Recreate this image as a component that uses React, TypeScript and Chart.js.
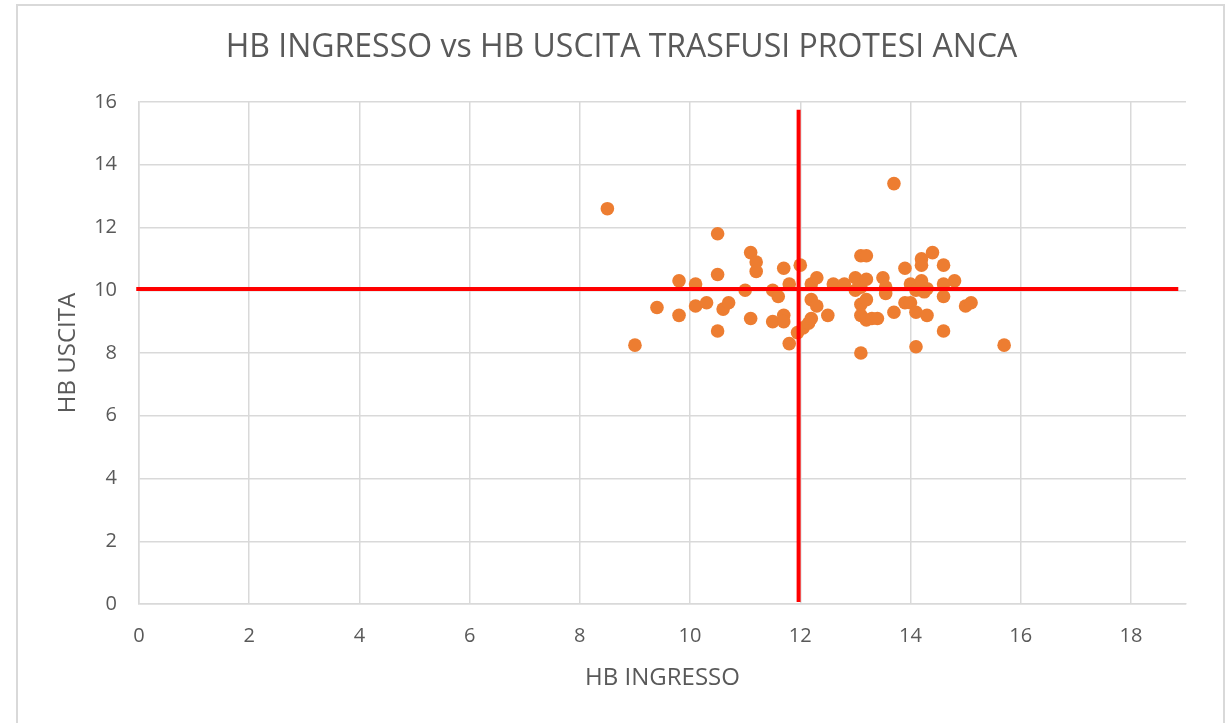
import React, { useEffect, useRef } from "react";
import { Chart, registerables } from "chart.js";

Chart.register(...registerables);

const chartTitle = "HB INGRESSO vs HB USCITA TRASFUSI PROTESI ANCA";
const xAxisTitle = "HB INGRESSO";
const yAxisTitle = "HB USCITA";

const hbIngresso = [8.5, 9.0, 9.4, 9.8, 9.8, 10.1, 10.1, 10.3, 10.5, 10.5, 10.5, 10.6, 10.7, 11.0, 11.1, 11.2, 11.2, 11.1, 11.5, 11.5, 11.6, 11.7, 11.7, 11.7, 11.8, 11.8, 12.0, 11.95, 12.05, 12.15, 12.2, 12.2, 12.3, 12.2, 12.3, 12.5, 12.6, 12.8, 13.0, 13.0, 13.1, 13.2, 13.1, 13.2, 13.1, 13.1, 13.2, 13.3, 13.1, 13.2, 13.4, 13.5, 13.55, 13.55, 13.7, 13.7, 13.9, 13.9, 14.0, 14.0, 14.1, 14.1, 14.1, 14.2, 14.2, 14.2, 14.3, 14.25, 14.3, 14.4, 14.6, 14.6, 14.6, 14.6, 14.8, 15.0, 15.1, 15.7];
const hbUscita = [12.6, 8.25, 9.45, 10.3, 9.2, 10.2, 9.5, 9.6, 11.8, 10.5, 8.7, 9.4, 9.6, 10.0, 11.2, 10.9, 10.6, 9.1, 10.0, 9.0, 9.8, 10.7, 9.2, 9.0, 10.2, 8.3, 10.8, 8.65, 8.8, 8.95, 9.1, 10.2, 10.4, 9.7, 9.5, 9.2, 10.2, 10.2, 10.4, 10.0, 10.1, 10.35, 11.1, 11.1, 9.55, 9.2, 9.05, 9.1, 8.0, 9.7, 9.1, 10.4, 10.1, 9.9, 13.4, 9.3, 10.7, 9.6, 9.6, 10.2, 10.0, 9.3, 8.2, 11.0, 10.8, 10.3, 10.05, 9.95, 9.2, 11.2, 10.8, 10.2, 9.8, 8.7, 10.3, 9.5, 9.6, 8.25];

// reference lines (threshold cross)
const hLineX = [-0.05, 18.86];
const hLineY = [10.04, 10.04];
const vLineX = [11.97, 11.97];
const vLineY = [0.06, 15.75];

const xMin = 0;
const xMax = 19;
const xStep = 2;
const yMin = 0;
const yMax = 16;
const yStep = 2;

const grey = "#595959";
const gridColor = "#d9d9d9";

const centeredTitle = {
  id: "centeredTitle",
  afterDraw(chart: any) {
    const ctx = chart.ctx;
    ctx.save();
    ctx.fillStyle = grey;
    ctx.font = "32px 'Open Sans'";
    ctx.textAlign = "center";
    ctx.textBaseline = "middle";
    ctx.fillText(chartTitle, 621.5, 48);
    ctx.restore();
  },
};

export default function App() {
  const canvasRef = useRef<HTMLCanvasElement | null>(null);

  useEffect(() => {
    const canvas = canvasRef.current;
    if (!canvas) return;
    const chart = new Chart(canvas, {
      type: "scatter",
      data: {
        datasets: [
          {
            label: "h",
            type: "line",
            data: hLineX.map((x, i) => ({ x, y: hLineY[i] })),
            borderColor: "#ff0000",
            borderWidth: 4,
            pointRadius: 0,
            showLine: true,
            fill: false,
            clip: false as any,
            order: 0,
          },
          {
            label: "v",
            type: "line",
            data: vLineX.map((x, i) => ({ x, y: vLineY[i] })),
            borderColor: "#ff0000",
            borderWidth: 4,
            pointRadius: 0,
            showLine: true,
            fill: false,
            clip: false as any,
            order: 0,
          },
          {
            label: "HB",
            data: hbIngresso.map((x, i) => ({ x, y: hbUscita[i] })),
            backgroundColor: "#ED7D31",
            borderWidth: 0,
            pointRadius: 6.8,
            pointHoverRadius: 6.8,
            order: 1,
          },
        ],
      },
      plugins: [centeredTitle],
      options: {
        responsive: false,
        animation: false,
        layout: { padding: { top: 102, left: 0, right: 44, bottom: 0 } },
        plugins: {
          legend: { display: false },
          tooltip: { enabled: false },
          title: { display: false },
        },
        scales: {
          x: {
            type: "linear",
            min: xMin,
            max: xMax,
            ticks: {
              stepSize: xStep,
              includeBounds: false,
              color: grey,
              padding: 20,
              font: { family: "'Open Sans'", size: 20 },
            } as any,
            afterBuildTicks: (scale: any) => {
              scale.ticks = scale.ticks.filter((t: any) => t.value % xStep === 0);
            },
            afterFit: (scale: any) => {
              scale.height = 119;
            },
            grid: { color: gridColor, lineWidth: 1.5, drawTicks: false },
            border: { color: gridColor, width: 1.5 },
            title: {
              display: true,
              text: xAxisTitle,
              color: grey,
              font: { family: "'Open Sans'", size: 24, lineHeight: 1.2 },
              padding: { top: 0, bottom: 30.6 },
            },
          },
          y: {
            type: "linear",
            min: yMin,
            max: yMax,
            ticks: {
              stepSize: yStep,
              color: grey,
              padding: 22,
              font: { family: "'Open Sans'", size: 20 },
            },
            afterFit: (scale: any) => {
              scale.width = 139;
            },
            grid: { color: gridColor, lineWidth: 1.5, drawTicks: false },
            border: { color: gridColor, width: 1.5 },
            title: {
              display: true,
              text: yAxisTitle,
              color: grey,
              font: { family: "'Open Sans'", size: 24, lineHeight: 1.2 },
              padding: { top: 53.6, bottom: 0 },
            },
          },
        },
      },
    });
    return () => chart.destroy();
  }, []);

  return (
    <div style={{ position: "fixed", left: 0, top: 0, width: 1230, height: 723, background: "#fff", overflow: "hidden" }}>
      <div
        style={{
          position: "absolute",
          left: 16,
          top: 4,
          width: 1209,
          height: 760,
          border: "2px solid #d9d9d9",
          boxSizing: "border-box",
        }}
      />
      <canvas
        ref={canvasRef}
        width={1230}
        height={723}
        style={{ position: "absolute", left: 0, top: 0, width: 1230, height: 723, display: "block" }}
      />
    </div>
  );
}
